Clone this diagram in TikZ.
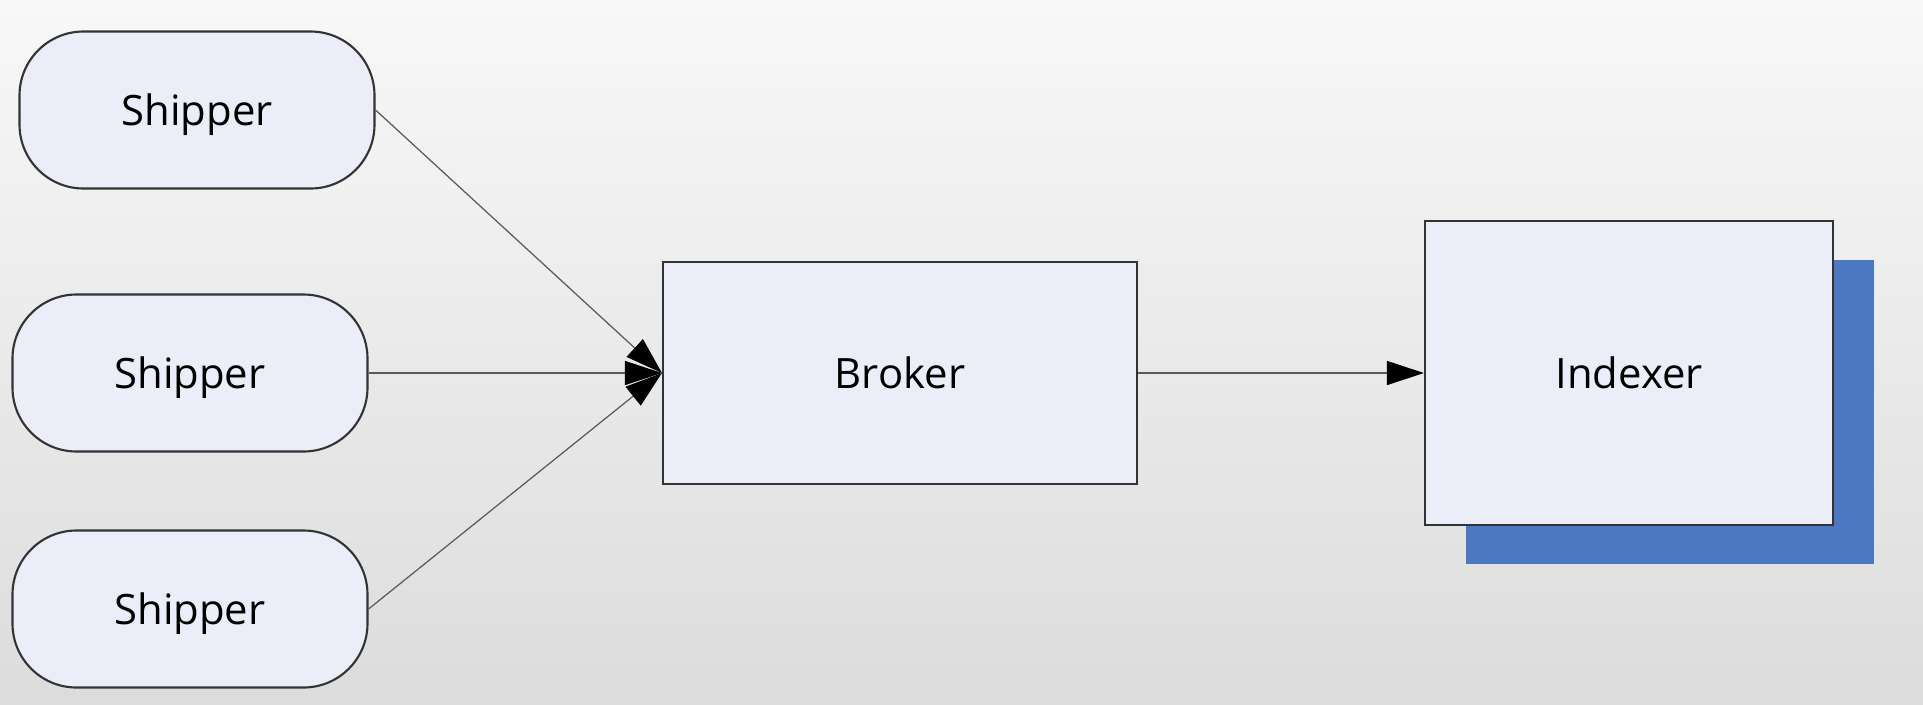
\documentclass[tikz,border=0pt]{standalone}
\usepackage{fontspec}
\setmainfont{Open Sans}
\usepackage{xcolor}
\usepackage{tikz}
\usetikzlibrary{positioning}
\usetikzlibrary{arrows.meta}
\usetikzlibrary{shadows}

\definecolor{boxfill}{HTML}{EBEDF8}
\definecolor{shadowblue}{HTML}{4C78C1}
\definecolor{bgtop}{HTML}{F8F8F9}
\definecolor{bgbottom}{HTML}{DCDCDC}

\begin{document}
\begin{tikzpicture}[node distance=7.1cm,
    every text node part/.style={align=center},
    font=\fontsize{11.9}{14}\selectfont,
    shipper/.style={draw=black!80, line width=0.6pt, fill=boxfill, rounded corners=0.64cm, minimum width=3.55cm, minimum height=1.57cm, text depth=0pt},
    block/.style={draw=black!80, line width=0.6pt, fill=boxfill},
    feed/.style={draw=black!65, line width=0.35pt, -{Triangle[length=0.37cm, width=0.24cm, color=black]}}]
\useasboundingbox (0,0) rectangle (19.23,-7.04);
\shade [top color=bgtop, bottom color=bgbottom] (0,0) rectangle (19.23,-7.04);

\node (broker) [block, minimum width=4.74cm, minimum height=2.22cm] at (9.00,-3.73) {Broker};
\node (shipper two) [shipper, left of=broker] {Shipper};
\node (shipper one) [shipper, node distance=2.63cm, above of=shipper two, xshift=0.07cm] {Shipper};
\node (shipper three) [shipper, node distance=2.36cm, below of=shipper two] {Shipper};
\node (indexer) [block, node distance=7.29cm, right of=broker, minimum width=4.08cm, minimum height=3.04cm,
    drop shadow={shadow xshift=0.41cm, shadow yshift=-0.39cm, fill=shadowblue, opacity=1, draw=none}] {Indexer};

\draw [feed] (shipper one.east) -- (broker.west);
\draw [feed] (shipper two.east) -- (broker.west);
\draw [feed] (shipper three.east) -- (broker.west);

\draw [feed] (broker.east) -- (indexer.west);

\end{tikzpicture}
\end{document}
